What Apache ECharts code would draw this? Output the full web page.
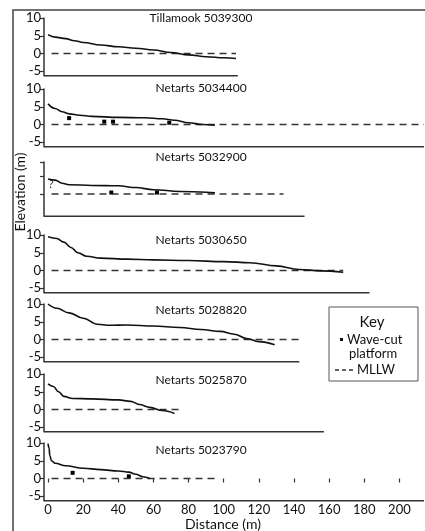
<!DOCTYPE html>
<html>
<head>
<meta charset="utf-8">
<script src="https://cdn.jsdelivr.net/npm/echarts@6/dist/echarts.min.js"></script>
<style>
  html, body { margin: 0; padding: 0; background: #fff; }
  #main { width: 425px; height: 531px; }
</style>
</head>
<body>
<div id="main"></div>
<script>
  // transect names, top to bottom
  const transectNames = [
    'Tillamook 5039300',
    'Netarts 5034400',
    'Netarts 5032900',
    'Netarts 5030650',
    'Netarts 5028820',
    'Netarts 5025870',
    'Netarts 5023790'
  ]

  // beach profiles: [distance (m), elevation (m)]
  const profile5039300 = [[0, 5.3], [4, 4.6], [10, 4.2], [15, 3.6], [20, 3.1], [30, 2.4], [40, 1.9], [50, 1.5], [60, 1.0], [70, 0.3], [80, -0.4], [90, -0.9], [100, -1.2], [107, -1.4]]
  const profile5034400 = [[0, 5.8], [4, 4.5], [8, 3.6], [12, 3.0], [18, 2.6], [25, 2.3], [40, 2.0], [55, 1.9], [65, 1.6], [72, 1.2], [80, 0.5], [88, 0], [95, -0.2]]
  const profile5032900 = [[0, 4.2], [4, 3.9], [8, 3.0], [12, 2.6], [25, 2.4], [40, 2.3], [50, 1.8], [60, 1.2], [75, 0.7], [90, 0.5], [95, 0.3]]
  const profile5030650 = [[0, 9.5], [5, 9.0], [9, 8.0], [13, 6.5], [17, 5.0], [22, 4.0], [30, 3.5], [45, 3.2], [60, 3.0], [80, 2.8], [100, 2.5], [115, 2.2], [130, 1.3], [143, 0.3], [155, -0.1], [168, -0.5]]
  const profile5028820 = [[0, 10], [5, 8.8], [12, 7.5], [20, 6.0], [28, 4.3], [35, 4.0], [45, 4.1], [60, 3.8], [75, 3.4], [87, 2.8], [98, 2.3], [106, 1.5], [113, 0.3], [120, -0.6], [129, -1.5]]
  const profile5025870 = [[0, 7.2], [3, 6.5], [6, 5.0], [9, 3.7], [14, 3.1], [25, 3.0], [40, 2.7], [47, 2.3], [52, 1.4], [58, 0.6], [65, -0.3], [72, -1.1]]
  const profile5023790 = [[0, 9.8], [0.6, 8.5], [1, 6.5], [2, 5.0], [4, 4.3], [10, 3.6], [20, 2.9], [30, 2.5], [40, 2.1], [46, 1.8], [50, 1.2], [54, 0.5], [58, 0]]

  // wave-cut platforms: [distance (m), elevation (m)]
  const platforms5034400 = [[12, 1.8], [32, 0.8], [37, 0.8], [69, 0.5]]
  const platforms5032900 = [[36, 0.4], [62, 0.4]]
  const platforms5023790 = [[14, 1.6], [46, 0.6]]

  // how far the MLLW line and the distance axis run in each panel (m)
  const mllwEnd = [107, 214, 134, 168, 143, 77, 95]
  const axisEnd = [108, 214, 146, 183, 143, 157, 214]

  const elevTicks = [-5, 0, 5, 10]
  const distTicks = [0, 20, 40, 60, 80, 100, 120, 140, 160, 180, 200]

  const profiles = [profile5039300, profile5034400, profile5032900, profile5030650, profile5028820, profile5025870, profile5023790]
  const platforms = [[], platforms5034400, platforms5032900, [], [], [], platforms5023790]

  // layout
  const font = 'Lato, "Open Sans", sans-serif'
  const xMin = -2.3
  const xMax = 214
  const yMin = -6.3
  const pxPerM = 3.55
  const panelTops = [18, 89, 162, 235, 304, 374, 443]
  const panelMax = [10, 10, 9, 10, 10, 10, 10]
  const titleY = [18, 88, 157, 240, 310, 380, 450]

  const grids = []
  const xAxes = []
  const yAxes = []
  const series = []

  profiles.forEach((prof, i) => {
    const last = i === profiles.length - 1
    grids.push({
      left: 44,
      right: 1,
      top: panelTops[i],
      height: (panelMax[i] - yMin) * pxPerM
    })
    xAxes.push({
      gridIndex: i,
      type: 'value',
      min: xMin,
      max: xMax,
      splitLine: { show: false },
      axisLine: { show: false },
      axisTick: {
        show: last,
        length: 4,
        customValues: distTicks,
        lineStyle: { color: '#333', width: 1.2 }
      },
      axisLabel: {
        show: last,
        customValues: distTicks,
        margin: 2,
        fontSize: 13,
        fontFamily: font,
        color: '#111'
      }
    })
    const ticks = i === 2 ? [0, 5, 9] : elevTicks
    yAxes.push({
      gridIndex: i,
      type: 'value',
      min: yMin,
      max: panelMax[i],
      splitLine: { show: false },
      axisLine: { show: true, onZero: false, lineStyle: { color: '#333', width: 1.5 } },
      axisTick: {
        show: true,
        length: 4,
        customValues: ticks,
        lineStyle: { color: '#333', width: 1.2 }
      },
      axisLabel: {
        show: i !== 2,
        customValues: elevTicks,
        margin: 3,
        fontSize: 13,
        fontFamily: font,
        color: '#111'
      }
    })

    // distance axis line drawn to its own length
    series.push({
      type: 'line',
      xAxisIndex: i,
      yAxisIndex: i,
      data: [[xMin, yMin], [axisEnd[i], yMin]],
      showSymbol: false,
      clip: false,
      silent: true,
      lineStyle: { color: '#333', width: 1.5 }
    })
    // MLLW
    series.push({
      type: 'line',
      xAxisIndex: i,
      yAxisIndex: i,
      data: [[2, 0], [mllwEnd[i], 0]],
      showSymbol: false,
      silent: true,
      lineStyle: { color: '#333', width: 1.5, type: [7, 5] }
    })
    // profile
    series.push({
      type: 'line',
      xAxisIndex: i,
      yAxisIndex: i,
      data: prof,
      smooth: 0.4,
      smoothMonotone: 'x',
      showSymbol: false,
      clip: false,
      lineStyle: { color: '#111', width: 1.6 }
    })
    if (platforms[i].length) {
      series.push({
        type: 'scatter',
        xAxisIndex: i,
        yAxisIndex: i,
        data: platforms[i],
        symbol: 'rect',
        symbolSize: 4,
        itemStyle: { color: '#000', opacity: 1 }
      })
    }
  })

  const graphics = [
    {
      type: 'rect',
      shape: { x: 13, y: 10, width: 420, height: 530 },
      style: { fill: 'none', stroke: '#444', lineWidth: 1.5 },
      silent: true
    },
    {
      type: 'text',
      x: 20,
      y: 192,
      rotation: Math.PI / 2,
      style: { text: 'Elevation (m)', font: '14px ' + font, fill: '#111', align: 'center', verticalAlign: 'middle' }
    },
    {
      type: 'text',
      x: 223,
      y: 524,
      style: { text: 'Distance (m)', font: '14px ' + font, fill: '#111', align: 'center', verticalAlign: 'middle' }
    },
    // key
    {
      type: 'rect',
      shape: { x: 329, y: 307, width: 89, height: 74 },
      style: { fill: '#fff', stroke: '#555', lineWidth: 1 }
    },
    {
      type: 'text', x: 372, y: 322,
      style: { text: 'Key', font: '15px ' + font, fill: '#111', align: 'center', verticalAlign: 'middle' }
    },
    {
      type: 'rect', shape: { x: 340, y: 338, width: 3, height: 3 },
      style: { fill: '#111' }
    },
    {
      type: 'text', x: 347, y: 340,
      style: { text: 'Wave-cut', font: '13px ' + font, fill: '#111', verticalAlign: 'middle' }
    },
    {
      type: 'text', x: 349, y: 354,
      style: { text: 'platform', font: '13px ' + font, fill: '#111', verticalAlign: 'middle' }
    },
    {
      type: 'line', shape: { x1: 335, y1: 370, x2: 353, y2: 370 },
      style: { stroke: '#333', lineWidth: 1.3, lineDash: [4, 3] }
    },
    {
      type: 'text', x: 357, y: 370,
      style: { text: 'MLLW', font: '13px ' + font, fill: '#111', verticalAlign: 'middle' }
    },
    // the "?" in panel 3
    {
      type: 'text', x: 51, y: 184,
      style: { text: '?', font: 'italic 11px ' + font, fill: '#111', align: 'center', verticalAlign: 'middle' }
    }
  ]
  transectNames.forEach((name, i) => {
    graphics.push({
      type: 'text',
      x: 201,
      y: titleY[i],
      style: { text: name, font: '12px ' + font, fill: '#111', align: 'center', verticalAlign: 'middle' }
    })
  })

  const chart = echarts.init(document.getElementById('main'))
  chart.setOption({
    animation: false,
    backgroundColor: '#fff',
    grid: grids,
    xAxis: xAxes,
    yAxis: yAxes,
    series: series,
    graphic: graphics
  })
</script>
</body>
</html>
